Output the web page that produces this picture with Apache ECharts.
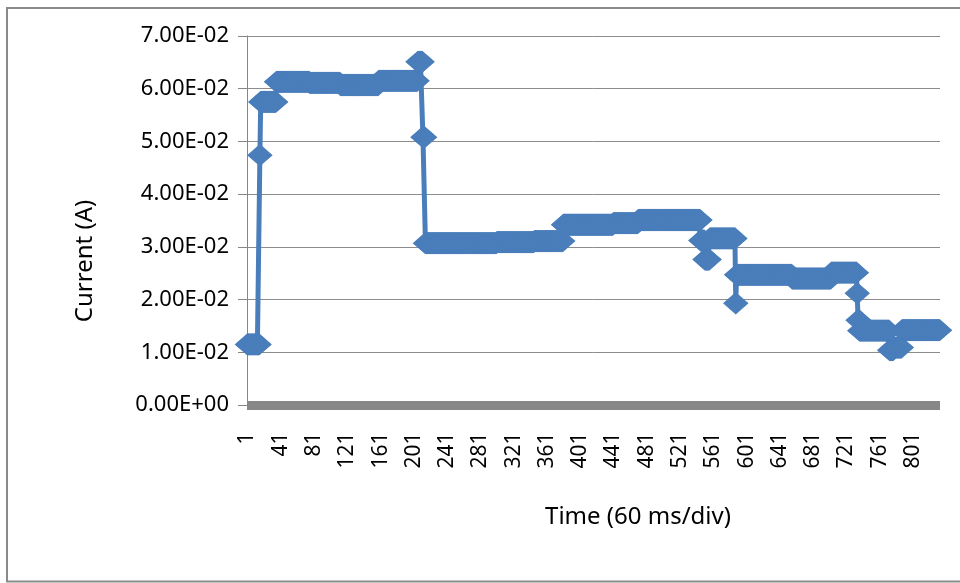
<!DOCTYPE html>
<html>
<head>
<meta charset="utf-8">
<script src="https://cdn.jsdelivr.net/npm/echarts@6/dist/echarts.min.js"></script>
<style>
html,body{margin:0;padding:0;background:#fff;}
#chart{width:960px;height:583px;}
</style>
</head>
<body>
<div id="chart"></div>
<script>
// Current readings (A), stored as runs: value held for a number of consecutive samples
const runValues = [0.0115, 0.0474, 0.0575, 0.0613, 0.0611, 0.0607, 0.0615, 0.0651, 0.0508,
  0.0307, 0.0309, 0.0311, 0.0342, 0.0345, 0.0351, 0.0312, 0.0276, 0.0316, 0.0193,
  0.0247, 0.0240, 0.0251, 0.0212, 0.0161, 0.0141, 0.0104, 0.0109, 0.0142];
const runCounts = [15, 1, 19, 40, 37, 46, 47, 6, 3,
  86, 45, 35, 60, 30, 75, 5, 6, 31, 1,
  67, 47, 31, 1, 2, 36, 5, 10, 46];
const yTickLabels = ['0.00E+00','1.00E-02','2.00E-02','3.00E-02','4.00E-02','5.00E-02','6.00E-02','7.00E-02'];
const xTitle = 'Time (60 ms/div)';
const yTitle = 'Current (A)';

const values = [];
runValues.forEach((v, k) => { for (let j = 0; j < runCounts[k]; j++) values.push(v); });
const categories = values.map((_, k) => String(k + 1));

const chart = echarts.init(document.getElementById('chart'), null, {renderer: 'canvas'});
const FONT = '"Noto Sans", sans-serif';
chart.setOption({
  animation: false,
  backgroundColor: '#fff',
  grid: {left: 247, right: 20, top: 36, bottom: 178, containLabel: false},
  xAxis: {
    type: 'category',
    data: categories,
    boundaryGap: true,
    offset: 4.5,
    axisLine: {show: true, lineStyle: {color: '#878787', width: 9, cap: 'butt'}},
    axisTick: {show: false},
    axisLabel: {interval: 39, rotate: 90, margin: 23, fontSize: 21, fontFamily: FONT, color: '#000'},
    splitLine: {show: false}
  },
  yAxis: {
    type: 'value',
    min: 0, max: 0.07, interval: 0.01,
    axisLine: {show: true, lineStyle: {color: '#868686', width: 1}},
    axisTick: {show: true, inside: false, length: 9, lineStyle: {color: '#868686'}},
    axisLabel: {margin: 18, fontSize: 22, fontFamily: FONT, color: '#000',
      formatter: v => yTickLabels[Math.round(v / 0.01)]},
    splitLine: {show: true, lineStyle: {color: '#8c8c8c', width: 1}}
  },
  series: [{
    type: 'line',
    data: values,
    symbol: 'diamond',
    symbolSize: [24, 21],
    showAllSymbol: true,
    lineStyle: {color: '#4a7ebb', width: 5},
    itemStyle: {color: '#4a7ebb', borderColor: '#4a7ebb', borderWidth: 1},
    emphasis: {disabled: true}
  }],
  graphic: [
    {type: 'rect', shape: {x: 7, y: 8, width: 990, height: 573.5},
      style: {fill: 'none', stroke: '#8a8a8a', lineWidth: 2}, silent: true},
    {type: 'text', x: 85, y: 261, rotation: Math.PI / 2,
      style: {text: yTitle, font: '24px ' + FONT, fill: '#000', align: 'center', verticalAlign: 'middle'}},
    {type: 'text', x: 638, y: 517,
      style: {text: xTitle, font: '24px ' + FONT, fill: '#000', align: 'center', verticalAlign: 'middle'}}
  ]
});
</script>
</body>
</html>
